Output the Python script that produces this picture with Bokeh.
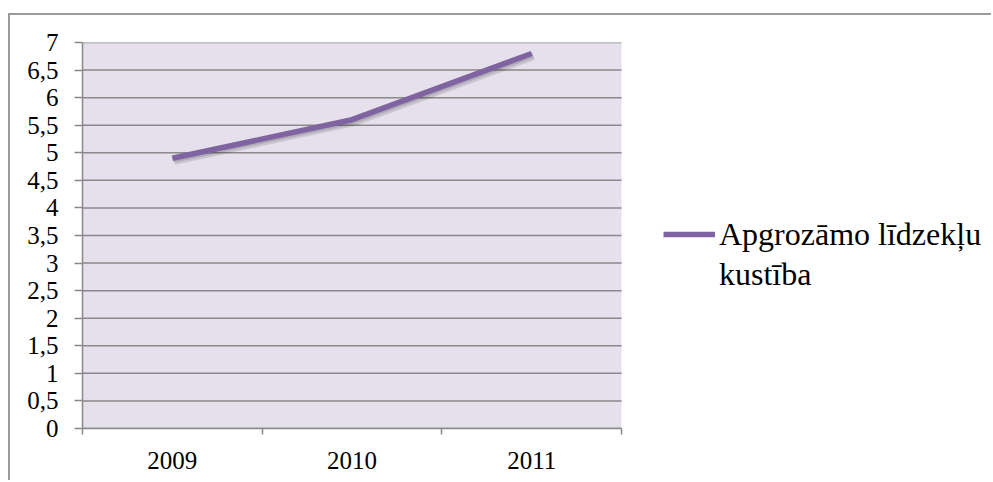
from bokeh.plotting import figure
from bokeh.models import (Range1d, FixedTicker, CustomJSTickFormatter, Legend,
                          LegendItem, BoxAnnotation)
from bokeh.embed import file_html
from bokeh.resources import INLINE

# Data
years = ["2009", "2010", "2011"]
values = [4.9, 5.6, 6.8]
y_ticks = [0, 0.5, 1, 1.5, 2, 2.5, 3, 3.5, 4, 4.5, 5, 5.5, 6, 6.5, 7]
legend_lines = ["Apgrozāmo līdzekļu", "kustība"]

FONT = "Liberation Serif"
GRID = "#898989"
LINE = "#8064A2"
PLOT_BG = "#E5E0EC"

# layout (pixels): the frame spans the whole right side so the legend can sit
# beside the plot area; the shaded plot area itself is 539 px wide
CANVAS_W, CANVAS_H = 983, 467
LEFT, TOP, BOTTOM = 72, 27, 54
FRAME_W = CANVAS_W - LEFT
FRAME_H = CANVAS_H - TOP - BOTTOM
AREA_W = 539

n = len(years)
x_pos = [i + 0.5 for i in range(n)]
y_min, y_max = y_ticks[0], y_ticks[-1]
x_end = n * FRAME_W / AREA_W

p = figure(width=CANVAS_W, height=CANVAS_H, output_backend="svg",
           toolbar_location=None,
           x_range=Range1d(0, x_end), y_range=Range1d(y_min, y_max))
# chart frame: thin gray rule along the top and left edges
p.styles = {"margin-left": "8px", "margin-top": "13px",
            "border-left": "2px solid #9a9a9a", "border-top": "2px solid #9a9a9a"}
p.min_border_left = LEFT
p.min_border_right = 0
p.min_border_top = TOP
p.min_border_bottom = BOTTOM
p.outline_line_color = None
p.background_fill_color = "white"
p.border_fill_color = "white"

# shaded plot area
p.add_layout(BoxAnnotation(left=0, right=n, bottom=y_min, top=y_max,
                           fill_color=PLOT_BG, fill_alpha=1, line_color=None,
                           level="underlay"))

# axes
xa = p.xaxis[0]
xa.bounds = (0, n)
xa.ticker = FixedTicker(ticks=x_pos, minor_ticks=list(range(n + 1)))
xa.formatter = CustomJSTickFormatter(args=dict(labels=years),
                                     code="return labels[Math.floor(tick)];")
xa.major_tick_out = 0
xa.major_tick_in = 0
xa.minor_tick_out = 6
xa.minor_tick_in = 0
xa.minor_tick_line_color = GRID
xa.minor_tick_line_width = 1.5
xa.axis_line_color = GRID
xa.axis_line_width = 1.5
xa.major_label_text_font = FONT
xa.major_label_text_font_size = "25px"
xa.major_label_text_color = "black"
xa.major_label_standoff = 17

ya = p.yaxis[0]
ya.bounds = (y_min, y_max)
ya.ticker = FixedTicker(ticks=y_ticks, minor_ticks=[])
ya.formatter = CustomJSTickFormatter(code="return tick.toString().replace('.', ',');")
ya.major_tick_out = 8
ya.major_tick_in = 0
ya.major_tick_line_color = GRID
ya.major_tick_line_width = 1.5
ya.axis_line_color = GRID
ya.axis_line_width = 1.5
ya.major_label_text_font = FONT
ya.major_label_text_font_size = "25px"
ya.major_label_text_color = "black"
ya.major_label_standoff = 16

p.xgrid.visible = False
p.ygrid.visible = False

# horizontal gridlines across the plot area only
p.segment(x0=[0] * len(y_ticks), x1=[n] * len(y_ticks), y0=y_ticks, y1=y_ticks,
          line_color=GRID, line_width=1.5)

# soft drop shadow under the series line (offset ~2 px right, ~3 px down)
dx = 2 * x_end / FRAME_W
dy = 3 * (y_max - y_min) / FRAME_H
p.line([x + dx for x in x_pos], [v - dy for v in values],
       line_color="black", line_alpha=0.12, line_width=7, line_join="round")
p.line([x + dx / 2 for x in x_pos], [v - dy / 2 for v in values],
       line_color="black", line_alpha=0.12, line_width=6, line_join="round")

r = p.line(x_pos, values, line_color=LINE, line_width=5.5, line_join="round")
# continuation line of the series name carries no swatch
blank = p.line([], [], line_alpha=0)

legend = Legend(items=[LegendItem(label=legend_lines[0], renderers=[r]),
                       LegendItem(label=legend_lines[1], renderers=[blank])],
                location=(AREA_W + 42, 134), padding=0, margin=0, spacing=0,
                border_line_color=None, background_fill_alpha=0,
                glyph_width=52, glyph_height=40, label_height=40,
                label_standoff=4, label_text_font=FONT,
                label_text_font_size="32px", label_text_color="black")
p.add_layout(legend)

open("out.html", "w").write(file_html(p, INLINE))
